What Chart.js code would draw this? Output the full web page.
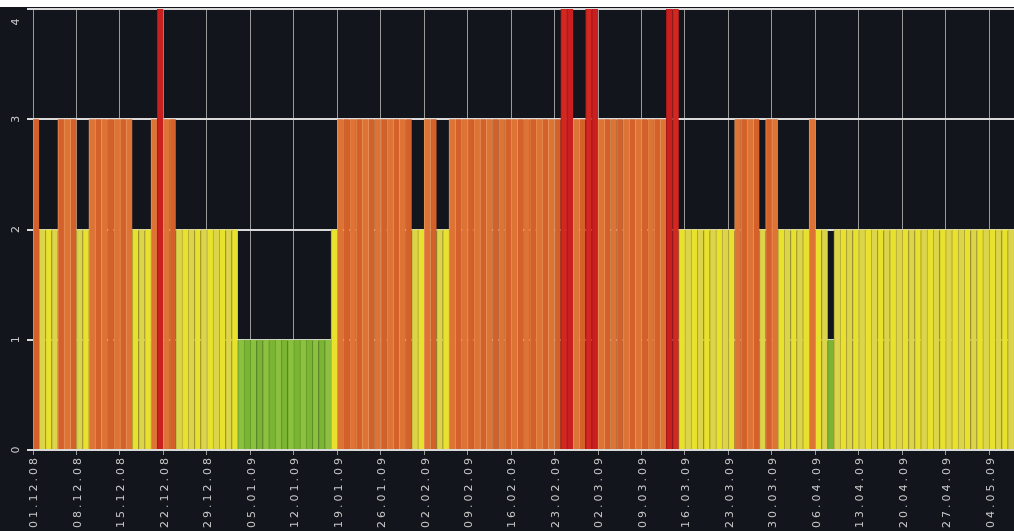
<!DOCTYPE html>
<html>
<head>
<meta charset="utf-8">
<script src="https://cdn.jsdelivr.net/npm/chart.js@4.4.1/dist/chart.umd.min.js"></script>
<style>
  html, body { margin: 0; padding: 0; background: #ffffff; }
  #wrap { position: absolute; left: 0; top: 7px; width: 1014px; height: 524px; background: #13151c; }
</style>
</head>
<body>
<div id="wrap"><canvas id="statusChart" width="1014" height="524"></canvas></div>
<script>
// Tagesstatus 01.12.08 - 07.05.09 (ein Balken pro Tag)
var startDate = new Date(2008, 11, 1);
var dayCount = 158;

// Beschriftung der x-Achse (wöchentlich)
var weekLabels = ['01.12.08', '08.12.08', '15.12.08', '22.12.08', '29.12.08', '05.01.09',
    '12.01.09', '19.01.09', '26.01.09', '02.02.09', '09.02.09', '16.02.09', '23.02.09',
    '02.03.09', '09.03.09', '16.03.09', '23.03.09', '30.03.09', '06.04.09', '13.04.09',
    '20.04.09', '27.04.09', '04.05.09'];

var yTicks = [0, 1, 2, 3, 4];

// Status pro Tag, eine Zeile = eine Woche
var statusValues = [
    3, 2, 2, 2, 3, 3, 3,
    2, 2, 3, 3, 3, 3, 3,
    3, 3, 2, 2, 2, 3, 4,
    3, 3, 2, 2, 2, 2, 2,
    2, 2, 2, 2, 2, 1, 1,
    1, 1, 1, 1, 1, 1, 1,
    1, 1, 1, 1, 1, 1, 2,
    3, 3, 3, 3, 3, 3, 3,
    3, 3, 3, 3, 3, 2, 2,
    3, 3, 2, 2, 3, 3, 3,
    3, 3, 3, 3, 3, 3, 3,
    3, 3, 3, 3, 3, 3, 3,
    3, 4, 4, 3, 3, 4, 4,
    3, 3, 3, 3, 3, 3, 3,
    3, 3, 3, 3, 4, 4, 2,
    2, 2, 2, 2, 2, 2, 2,
    2, 3, 3, 3, 3, 2, 3,
    3, 2, 2, 2, 2, 2, 3,
    2, 2, 1, 2, 2, 2, 2,
    2, 2, 2, 2, 2, 2, 2,
    2, 2, 2, 2, 2, 2, 2,
    2, 2, 2, 2, 2, 2, 2,
    2, 2, 2, 2
];

var fillColors = {
    1: ['#7cb433', '#8bc13e'],
    2: ['#e8e22e', '#dcd44a'],
    3: ['#d4602a', '#dd7436'],
    4: ['#c91f1f', '#d32822']
};
var edgeColors = { 1: '#669c2b', 2: '#b3a835', 3: '#e6935a', 4: '#a51818' };

function pad(n) { return n < 10 ? '0' + n : '' + n; }

var days = [];
for (var i = 0; i < dayCount; i++) {
    var d = new Date(startDate.getFullYear(), startDate.getMonth(), startDate.getDate() + i);
    days.push(pad(d.getDate()) + '.' + pad(d.getMonth() + 1) + '.' + pad(d.getFullYear() % 100));
}

// gedrehte Achsenbeschriftung selbst zeichnen
var axisLabels = {
    id: 'axisLabels',
    afterDraw: function(chart) {
        var ctx = chart.ctx;
        var xs = chart.scales.x;
        var ys = chart.scales.y;
        var area = chart.chartArea;
        ctx.save();
        ctx.fillStyle = '#c8c8c8';
        ctx.font = '11px "DejaVu Sans"';
        ctx.letterSpacing = '3px';
        ctx.textAlign = 'right';
        ctx.textBaseline = 'middle';
        weekLabels.forEach(function(label, i) {
            var px = xs.getPixelForValue(i * 7 - 0.5) + 1.5;
            ctx.save();
            ctx.translate(px, area.bottom + 5);
            ctx.rotate(-Math.PI / 2);
            ctx.fillText(label, 0, 0);
            ctx.restore();
        });
        ctx.letterSpacing = '0px';
        ctx.textAlign = 'center';
        yTicks.forEach(function(v) {
            var py = Math.max(ys.getPixelForValue(v), area.top + 13);
            ctx.save();
            ctx.translate(16, py);
            ctx.rotate(-Math.PI / 2);
            ctx.fillText(String(v), 0, 0);
            ctx.restore();
        });
        ctx.restore();
    }
};

var ctx = document.getElementById('statusChart').getContext('2d');
var statusChart = new Chart(ctx, {
    type: 'bar',
    data: {
        labels: days,
        datasets: [{
            label: 'Status',
            data: statusValues,
            backgroundColor: function(c) { return fillColors[c.raw][c.dataIndex % 2]; },
            borderColor: function(c) { return edgeColors[c.raw]; },
            borderWidth: { left: 1, right: 0, top: 0, bottom: 0 },
            borderSkipped: false,
            barPercentage: 1,
            categoryPercentage: 1
        }]
    },
    options: {
        responsive: false,
        animation: false,
        layout: { padding: { top: 2, right: 0, left: 0, bottom: 0 } },
        plugins: {
            legend: { display: false },
            tooltip: { enabled: false }
        },
        scales: {
            x: {
                offset: true,
                grid: {
                    offset: true,
                    color: function(c) { return c.index % 7 === 0 ? '#9a9a9a' : 'rgba(0,0,0,0)'; },
                    lineWidth: 1,
                    tickLength: 5
                },
                border: { display: false },
                ticks: { display: false, autoSkip: false },
                afterFit: function(s) { s.height = 81; }
            },
            y: {
                min: 0,
                max: 4,
                ticks: { display: false, stepSize: 1 },
                grid: { color: '#d9d9d9', lineWidth: 2, tickLength: 6 },
                border: { display: false },
                afterFit: function(s) { s.width = 33; }
            }
        }
    },
    plugins: [axisLabels]
});
</script>
</body>
</html>
